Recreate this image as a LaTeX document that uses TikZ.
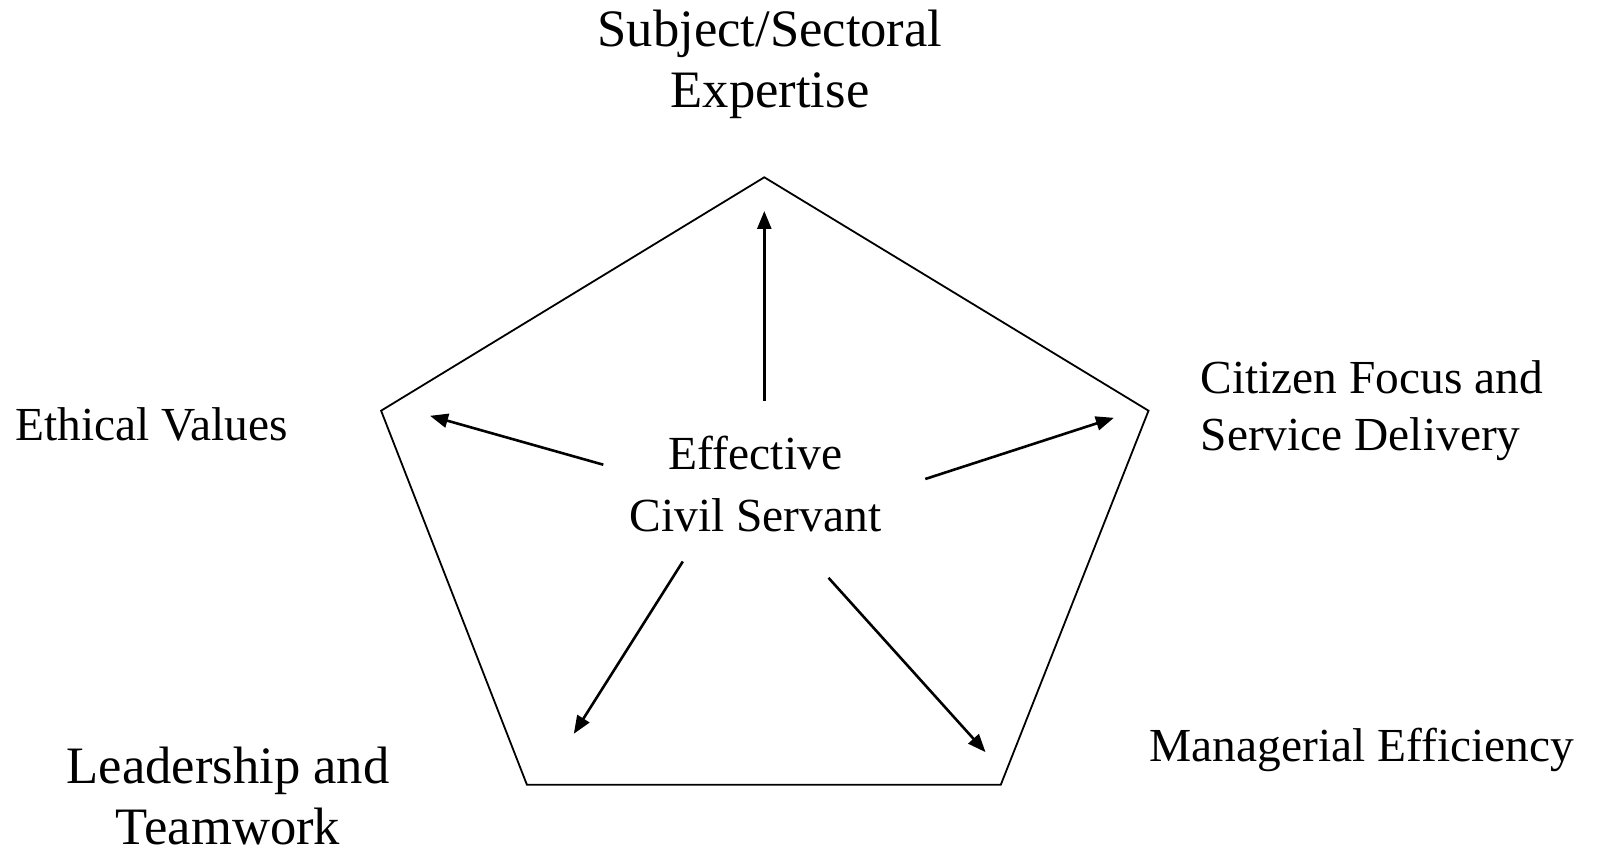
\documentclass[tikz,border=0pt]{standalone}
\usepackage{fontspec}
\setmainfont{Liberation Serif}
\usetikzlibrary{arrows.meta}
\begin{document}
\begin{tikzpicture}[x=1pt,y=-1pt,
  big/.style={font=\fontsize{52.6}{61.5}\selectfont, inner sep=0pt, align=center},
  mid/.style={font=\fontsize{47.4}{57}\selectfont, inner sep=0pt, align=left},
  ctr/.style={font=\fontsize{47.5}{62}\selectfont, inner sep=0pt, align=center},
  arr/.style={line width=2.6pt, -{Triangle[length=18pt,width=14pt]}},
  pent/.style={line width=1.8pt, line join=miter}]
\useasboundingbox (0,0) rectangle (1598,850);
% pentagon vertices
\coordinate (p1) at (764.3,177.3);
\coordinate (p2) at (1148.5,410.7);
\coordinate (p3) at (1000.8,784.7);
\coordinate (p4) at (526.9,784.7);
\coordinate (p5) at (381.1,410.7);
\draw[pent] (p1) -- (p2) -- (p3) -- (p4) -- (p5) -- cycle;
% arrow ends
\coordinate (s1) at (764.3,400.5); \coordinate (e1) at (764.3,211);
\coordinate (s2) at (603.3,464.7); \coordinate (e2) at (430,415.8);
\coordinate (s3) at (925.3,479);   \coordinate (e3) at (1113.9,417.8);
\coordinate (s4) at (682.8,561.5); \coordinate (e4) at (573.8,733.8);
\coordinate (s5) at (828.5,577.8); \coordinate (e5) at (985.5,752.1);
\draw[arr] (s1) -- (e1);
\draw[arr] (s2) -- (e2);
\draw[arr] (s3) -- (e3);
\draw[arr] (s4) -- (e4);
\draw[arr] (s5) -- (e5);
% labels (base anchor = baseline of last line)
\node[big, anchor=base] (top) at (770,107.7) {Subject/Sectoral\\Expertise};
\node[mid, anchor=base west] (eth) at (15,440) {Ethical Values};
\node[mid, anchor=base west] (cit) at (1200.5,450.3) {Citizen Focus and\\Service Delivery};
\node[mid, anchor=base west] (man) at (1149.5,761.7) {Managerial Efficiency};
\node[big, anchor=base] (lead) at (228,844.5) {Leadership and\\Teamwork};
\node[ctr, anchor=base] (c) at (755.5,531) {Effective\\Civil Servant};
\end{tikzpicture}
\end{document}
